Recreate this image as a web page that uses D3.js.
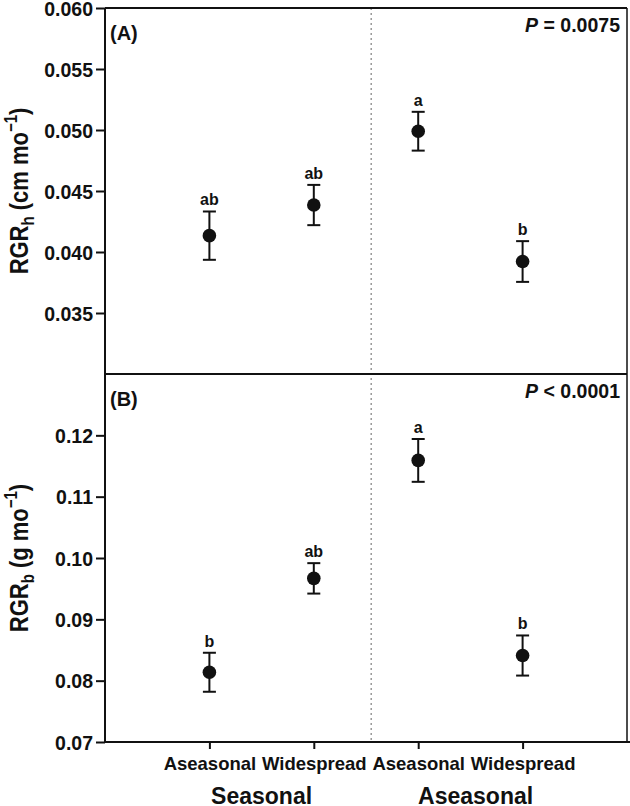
<!DOCTYPE html>
<html>
<head>
<meta charset="utf-8">
<script src="https://cdn.jsdelivr.net/npm/d3@7"></script>
<style>
  body { margin: 0; background: #fff; }
  svg text { font-family: "Liberation Sans", Arial, sans-serif; font-weight: bold; fill: #111; }
</style>
</head>
<body>
<div id="chart"></div>
<script>
// categories along the x axis, grouped by habitat
var groups = ["Seasonal", "Aseasonal"];
var categories = ["Aseasonal", "Widespread", "Aseasonal", "Widespread"];

// panel A: height growth rate (mean, SE, letters)
var rgrH = [0.04134, 0.04385, 0.04990, 0.03922];
var rgrHse = [0.00198, 0.00165, 0.00159, 0.00167];
var lettersH = ["ab", "ab", "a", "b"];
var ticksH = [0.035, 0.040, 0.045, 0.050, 0.055, 0.060];

// panel B: biomass growth rate
var rgrB = [0.08137, 0.09668, 0.11591, 0.08410];
var rgrBse = [0.00318, 0.00248, 0.00349, 0.00327];
var lettersB = ["b", "ab", "a", "b"];
var ticksB = [0.07, 0.08, 0.09, 0.10, 0.11, 0.12];

var pValues = ["= 0.0075", "< 0.0001"];

var width = 630, height = 806;
var plotL = 105, plotR = 627, plotT = 8, plotM = 374, plotB = 742;

var svg = d3.select("#chart").append("svg")
    .attr("width", width).attr("height", height);

var x = d3.scaleLinear().domain([0, 5]).range([plotL, plotR]);

var panels = [
    {key: "A", mean: rgrH, se: rgrHse, letters: lettersH, ticks: ticksH, fmt: d3.format(".3f"),
     y: d3.scaleLinear().domain([0.030, 0.060]).range([plotM, plotT]), unit: "h", tail: " (cm mo", p: pValues[0]},
    {key: "B", mean: rgrB, se: rgrBse, letters: lettersB, ticks: ticksB, fmt: d3.format(".2f"),
     y: d3.scaleLinear().domain([0.07, 0.13]).range([plotB, plotM]), unit: "b", tail: " (g mo", p: pValues[1]}
];

panels.forEach(function(pn) {
    var y = pn.y;
    var y0 = y.range()[0], y1 = y.range()[1];

    // y axis
    svg.append("g")
        .attr("transform", "translate(" + plotL + ",0)")
        .call(d3.axisLeft(y).tickValues(pn.ticks).tickFormat(pn.fmt).tickSize(9).tickPadding(3))
        .call(function(g) {
            g.select(".domain").remove();
            g.selectAll(".tick line").attr("stroke", "#111").attr("stroke-width", 2);
            g.selectAll(".tick text").style("font-size", "19.5px").attr("dy", "0.36em");
        });

    // y title, rotated (glyphs a bit taller than wide, as in the original)
    var t = svg.append("text")
        .attr("transform", "translate(28," + ((y0 + y1) / 2) + ") rotate(-90) scale(1,1.18)")
        .attr("text-anchor", "middle")
        .style("font-size", "22px");
    t.append("tspan").text("RGR");
    t.append("tspan").text(pn.unit).attr("dy", 5).style("font-size", "15px");
    t.append("tspan").text(pn.tail).attr("dy", -5);
    t.append("tspan").text("\u22121").attr("dy", -9).style("font-size", "15px");
    t.append("tspan").text(")").attr("dy", 9);

    // panel label
    svg.append("text").attr("x", 110).attr("y", y1 + 32)
        .style("font-size", "20px").text("(" + pn.key + ")");

    // P value
    var pt = svg.append("text").attr("x", 620).attr("y", y1 + 24)
        .attr("text-anchor", "end").style("font-size", "19.5px");
    pt.append("tspan").style("font-style", "italic").text("P");
    pt.append("tspan").text(" " + pn.p);

    // error bars
    var idx = d3.range(categories.length);
    var eb = svg.append("g").attr("stroke", "#111").attr("stroke-width", 2);
    eb.selectAll("line.v").data(idx).enter().append("line")
        .attr("x1", function(i) { return x(i + 1); })
        .attr("x2", function(i) { return x(i + 1); })
        .attr("y1", function(i) { return y(pn.mean[i] + pn.se[i]); })
        .attr("y2", function(i) { return y(pn.mean[i] - pn.se[i]); });
    [1, -1].forEach(function(s) {
        eb.selectAll("line.cap" + s).data(idx).enter().append("line")
            .attr("x1", function(i) { return x(i + 1) - 6.5; })
            .attr("x2", function(i) { return x(i + 1) + 6.5; })
            .attr("y1", function(i) { return y(pn.mean[i] + s * pn.se[i]); })
            .attr("y2", function(i) { return y(pn.mean[i] + s * pn.se[i]); });
    });

    // points
    svg.selectAll("circle.p" + pn.key).data(idx).enter().append("circle")
        .attr("cx", function(i) { return x(i + 1); })
        .attr("cy", function(i) { return y(pn.mean[i]); })
        .attr("r", 6.8)
        .attr("fill", "#111");

    // significance letters
    svg.selectAll("text.l" + pn.key).data(idx).enter().append("text")
        .attr("x", function(i) { return x(i + 1); })
        .attr("y", function(i) { return y(pn.mean[i] + pn.se[i]) - 6; })
        .attr("text-anchor", "middle")
        .style("font-size", "16px")
        .text(function(i) { return pn.letters[i]; });
});

// dotted divider between groups
svg.append("line")
    .attr("x1", x(2.55)).attr("x2", x(2.55))
    .attr("y1", plotT).attr("y2", plotB)
    .attr("stroke", "#999").attr("stroke-width", 1.5).attr("stroke-dasharray", "2,3");

// frame
var frame = svg.append("g").attr("stroke", "#111").attr("fill", "none");
frame.append("line").attr("x1", plotL).attr("x2", plotL).attr("y1", plotT).attr("y2", plotB).attr("stroke-width", 2);
frame.append("line").attr("x1", plotL).attr("x2", plotR).attr("y1", plotT).attr("y2", plotT).attr("stroke-width", 2);
frame.append("line").attr("x1", plotL).attr("x2", plotR).attr("y1", plotM).attr("y2", plotM).attr("stroke-width", 2);
frame.append("line").attr("x1", plotR).attr("x2", plotR).attr("y1", plotT).attr("y2", plotB).attr("stroke-width", 1.5);

// x axis
svg.append("g")
    .attr("transform", "translate(0," + plotB + ")")
    .call(d3.axisBottom(x).tickValues([1, 2, 3, 4]).tickSize(7).tickPadding(8)
        .tickFormat(function(d) { return categories[d - 1]; }))
    .call(function(g) {
        g.select(".domain").attr("d", "M" + plotL + ",0H" + width).attr("stroke", "#111").attr("stroke-width", 2);
        g.selectAll(".tick line").attr("stroke", "#111").attr("stroke-width", 2);
        g.selectAll(".tick text").style("font-size", "18.5px");
    });

// group labels
var groupPos = [1.5, 3.55];
svg.selectAll("text.grp").data(groups).enter().append("text")
    .attr("x", function(d, i) { return x(groupPos[i]); })
    .attr("y", 804)
    .attr("text-anchor", "middle")
    .style("font-size", "23px")
    .text(function(d) { return d; });
</script>
</body>
</html>
